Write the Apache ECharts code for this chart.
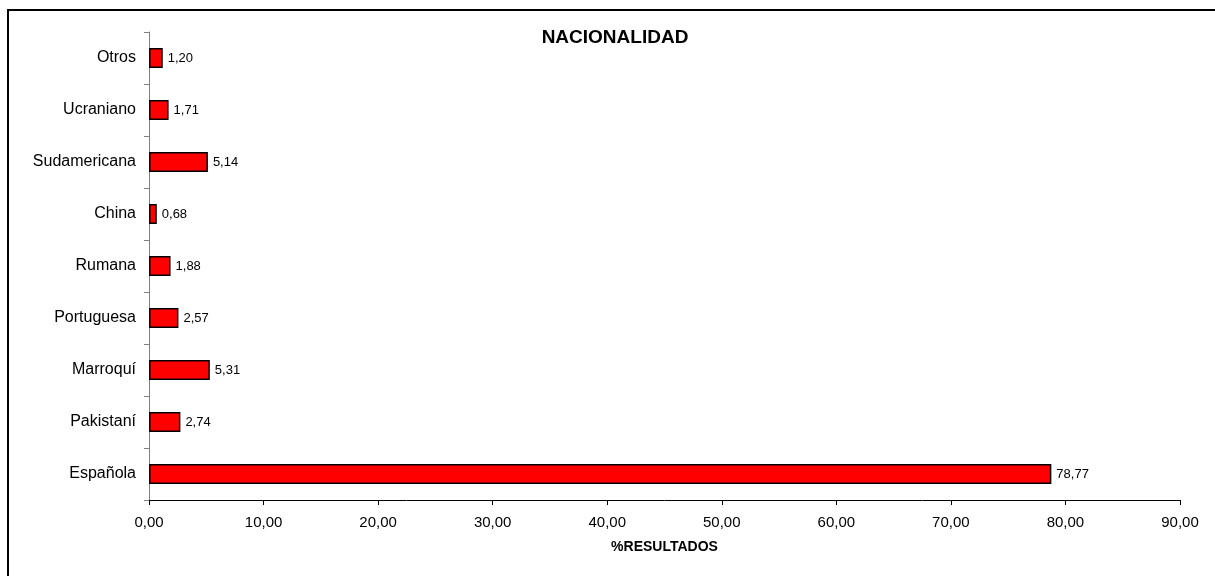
<!DOCTYPE html>
<html>
<head>
<meta charset="utf-8">
<script src="https://cdn.jsdelivr.net/npm/echarts@6/dist/echarts.min.js"></script>
<style>
  html, body { margin: 0; padding: 0; background: #fff; }
  #chart { width: 1215px; height: 576px; }
</style>
</head>
<body>
<div id="chart"></div>
<script>
// Nationality breakdown, bottom-to-top order on the category axis
const categories = ['Española', 'Pakistaní', 'Marroquí', 'Portuguesa', 'Rumana', 'China', 'Sudamericana', 'Ucraniano', 'Otros'];
const values = [78.77, 2.74, 5.31, 2.57, 1.88, 0.68, 5.14, 1.71, 1.20];
const xTicks = [0, 10, 20, 30, 40, 50, 60, 70, 80, 90];

const fmt = v => Number(v).toFixed(2).replace('.', ',');

const chart = echarts.init(document.getElementById('chart'), null, { renderer: 'canvas' });

chart.setOption({
  animation: false,
  backgroundColor: '#ffffff',
  textStyle: { fontFamily: 'Liberation Sans, Arial, sans-serif' },
  graphic: [
    {
      type: 'rect',
      shape: { x: 8, y: 10, width: 1220, height: 580 },
      style: { fill: 'none', stroke: '#000', lineWidth: 2 },
      silent: true
    },
    {
      type: 'text',
      x: 615, y: 38,
      style: {
        text: 'NACIONALIDAD',
        font: 'bold 19px "Liberation Sans", Arial, sans-serif',
        fill: '#000',
        textAlign: 'center',
        textVerticalAlign: 'middle'
      }
    }
  ],
  grid: { left: 149, right: 35, top: 32, bottom: 76, containLabel: false },
  xAxis: {
    type: 'value',
    min: xTicks[0],
    max: xTicks[xTicks.length - 1],
    interval: 10,
    name: '%RESULTADOS',
    nameLocation: 'middle',
    nameGap: 40,
    nameTextStyle: { fontSize: 14, fontWeight: 'bold', color: '#000' },
    axisLine: { show: true, lineStyle: { color: '#000', width: 1 } },
    axisTick: { show: true, length: 5, lineStyle: { color: '#000' } },
    axisLabel: { fontSize: 15, color: '#000', margin: 15, formatter: v => fmt(v) },
    splitLine: { show: false }
  },
  yAxis: {
    type: 'category',
    data: categories,
    axisLine: { show: true, lineStyle: { color: '#808080', width: 1 } },
    axisTick: { show: true, length: 5, inside: false, alignWithLabel: false, lineStyle: { color: '#808080' } },
    axisLabel: { fontSize: 16, color: '#000', margin: 13 },
    splitLine: { show: false }
  },
  series: [{
    type: 'bar',
    data: values,
    barWidth: 20,
    itemStyle: { color: '#ff0000', borderColor: '#000', borderWidth: 1.5 },
    label: {
      show: true,
      position: 'right',
      distance: 5,
      fontSize: 13,
      color: '#000',
      formatter: p => fmt(p.value)
    }
  }]
});
</script>
</body>
</html>
